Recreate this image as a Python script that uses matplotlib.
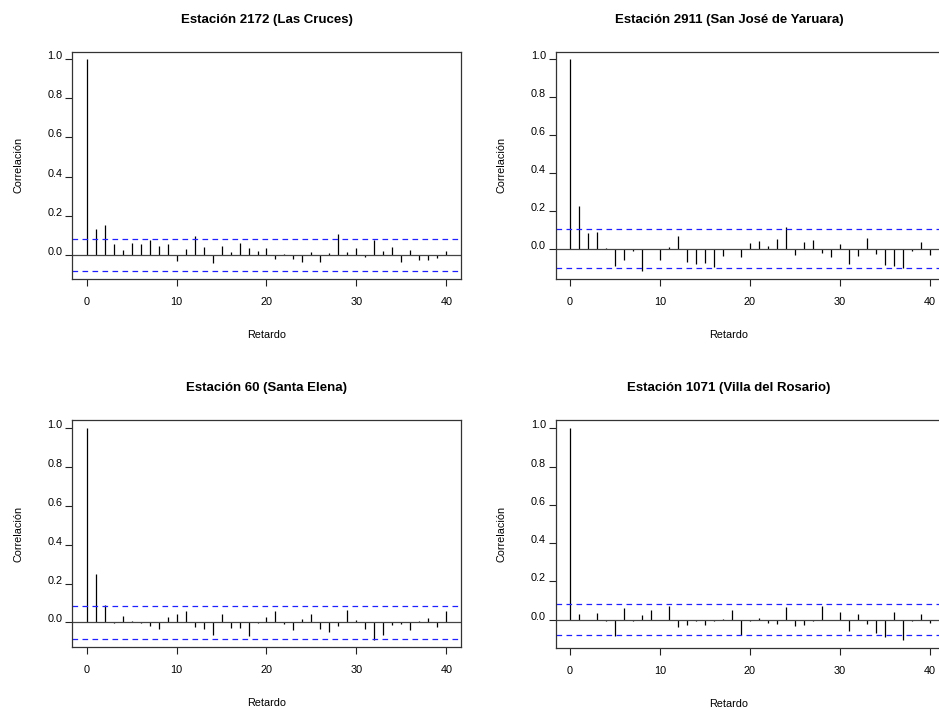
import numpy as np
import matplotlib
matplotlib.use("Agg")
from matplotlib import pyplot as plt

plt.rcParams['font.family'] = ['Liberation Sans', 'DejaVu Sans']

# autocorrelaciones por estacion, retardos 0..40
lags = np.arange(41)

acf_2172 = [1.0, 0.133, 0.155, 0.054, 0.026, 0.063, 0.058, 0.075, 0.046, 0.056,
            -0.029, 0.031, 0.099, 0.041, -0.039, 0.046, 0.017, 0.063, 0.034, 0.020,
            0.034, -0.019, 0.003, -0.019, -0.036, 0.015, -0.034, 0.010, 0.109, 0.015,
            0.036, -0.008, 0.078, 0.022, 0.039, -0.037, 0.026, -0.024, -0.024, -0.015,
            0.022]
acf_2911 = [1.0, 0.225, 0.081, 0.090, 0.002, -0.090, -0.058, -0.011, -0.116, 0.001,
            -0.060, 0.009, 0.067, -0.069, -0.083, -0.077, -0.095, -0.037, -0.002, -0.042,
            0.033, 0.042, 0.014, 0.051, 0.116, -0.035, 0.035, 0.044, -0.021, -0.044,
            0.025, -0.079, -0.040, 0.055, -0.028, -0.088, -0.093, -0.104, -0.011, 0.037,
            -0.035]
acf_60 = [1.0, 0.251, 0.088, -0.003, 0.031, 0.009, -0.003, -0.019, -0.033, 0.027,
          0.043, 0.058, -0.022, -0.034, -0.064, 0.046, -0.026, -0.026, -0.072, -0.003,
          0.026, 0.060, -0.009, -0.041, 0.017, 0.041, -0.034, -0.050, -0.017, 0.062,
          0.015, -0.034, -0.088, -0.067, -0.014, -0.009, -0.041, 0.009, 0.022, -0.024,
          0.060]
acf_1071 = [1.0, 0.030, -0.005, 0.033, -0.007, -0.087, 0.058, -0.009, 0.023, 0.049,
            -0.002, 0.072, -0.037, -0.031, -0.010, -0.031, -0.009, 0.005, 0.049, -0.082,
            -0.010, 0.007, -0.017, -0.026, 0.065, -0.033, -0.031, -0.010, 0.073, -0.003,
            0.038, -0.058, 0.028, -0.024, -0.068, -0.091, 0.038, -0.106, -0.009, 0.030,
            -0.017]

titles = ["Estación 2172 (Las Cruces)", "Estación 2911 (San José de Yaruara)",
          "Estación 60 (Santa Elena)", "Estación 1071 (Villa del Rosario)"]
series = [acf_2172, acf_2911, acf_60, acf_1071]
ci = [0.080, 0.104, 0.083, 0.082]
ylims = [(-0.121, 1.037), (-0.158, 1.040), (-0.128, 1.043), (-0.149, 1.044)]

W, H = 939, 709
# posiciones en pixeles: left, top, right, bottom
boxes = [(72.3, 51.7, 460.7, 278.7), (555.7, 51.7, 944.3, 278.7),
         (72.3, 420.0, 460.7, 647.3), (555.7, 420.0, 944.3, 648.0)]
# centro del texto (titulo / eje x) en pixeles
text_cx = [266.5, 729, 266.5, 729]

fig = plt.figure(figsize=(W / 100, H / 100), dpi=100)

for i in range(4):
    l, t, r, b = boxes[i]
    ax = fig.add_axes([l / W, 1 - b / H, (r - l) / W, (b - t) / H])
    ax.vlines(lags, 0, series[i], color='black', linewidth=0.9)
    ax.axhline(0, color='#444444', linewidth=0.9)
    ax.axhline(ci[i], color='#2020ff', linewidth=0.9, linestyle=(0, (4.5, 3.5)))
    ax.axhline(-ci[i], color='#2020ff', linewidth=0.9, linestyle=(0, (4.5, 3.5)))
    ax.set_xlim(-1.6, 41.6)
    ax.set_ylim(*ylims[i])
    ax.set_xticks([0, 10, 20, 30, 40])
    ax.set_yticks([0.0, 0.2, 0.4, 0.6, 0.8, 1.0])
    ax.set_yticklabels(["0.0", "0.2", "0.4", "0.6", "0.8", "1.0"])
    ax.tick_params(direction='out', length=5, width=0.8, labelsize=7.8,
                   color='#222222', pad=2)
    ax.tick_params(axis='x', pad=8)
    for lab in ax.get_yticklabels():
        lab.set_va('baseline')
    for s in ax.spines.values():
        s.set_color('#333333')
        s.set_linewidth(0.9)

    cx = text_cx[i] / W
    fig.text(cx, 1 - (t - 32) / H, titles[i], ha='center', va='center',
             fontsize=9.5, fontweight='bold')
    fig.text(cx, 1 - (b + 56) / H, "Retardo", ha='center', va='center',
             fontsize=7.8)
    fig.text((l - 54) / W, 1 - (t + b) / 2 / H, "Correlación", ha='center',
             va='center', rotation=90, fontsize=7.8)

fig.savefig("out.png", dpi=100)
